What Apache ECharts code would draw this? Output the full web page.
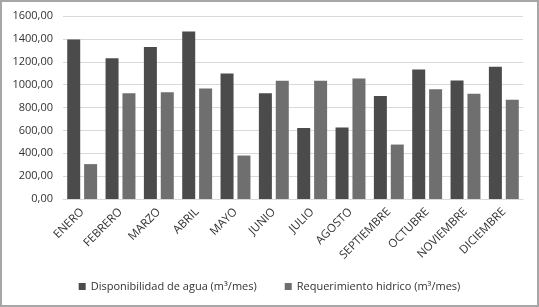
<!DOCTYPE html>
<html>
<head>
<meta charset="utf-8">
<script src="https://cdn.jsdelivr.net/npm/echarts@6/dist/echarts.min.js"></script>
<style>
  html, body { margin: 0; padding: 0; background: #fff; }
  #chartContainer { width: 539px; height: 307px; }
</style>
</head>
<body>
<div id="chartContainer"></div>
<script>
// meses
var meses = ['ENERO', 'FEBRERO', 'MARZO', 'ABRIL', 'MAYO', 'JUNIO', 'JULIO', 'AGOSTO', 'SEPTIEMBRE', 'OCTUBRE', 'NOVIEMBRE', 'DICIEMBRE'];
// m3/mes
var disponibilidad = [1395, 1230, 1328, 1464, 1098, 925, 620, 625, 900, 1133, 1037, 1156];
var requerimiento = [305, 925, 933, 967, 380, 1034, 1034, 1054, 476, 959, 920, 867];
var nombres = ['Disponibilidad de agua (m³/mes)', 'Requerimiento hidrico (m³/mes)'];

var fuente = '"Open Sans", "Liberation Sans", sans-serif';

var myChar, options = {
    animation: false,
    color: ['#4b4b4b', '#6f6f6f'],
    textStyle: { fontFamily: fuente },
    graphic: [{
        type: 'rect',
        shape: { x: 1, y: 1, width: 537, height: 305 },
        style: { fill: 'none', stroke: '#a6a6a6', lineWidth: 2 },
        silent: true
    }],
    legend: {
        bottom: 10,
        left: 'center',
        itemWidth: 7,
        itemHeight: 7,
        itemGap: 28,
        icon: 'rect',
        textStyle: { color: '#333', fontSize: 11, fontFamily: fuente },
        data: nombres
    },
    grid: {
        left: 63,
        right: 16,
        top: 16,
        bottom: 108
    },
    xAxis: {
        type: 'category',
        data: meses,
        axisTick: { show: false },
        axisLine: { lineStyle: { color: '#d9d9d9' } },
        axisLabel: {
            interval: 0,
            rotate: 45,
            color: '#333',
            fontSize: 11.5,
            margin: 11
        }
    },
    yAxis: {
        type: 'value',
        min: 0,
        max: 1600,
        interval: 200,
        axisLine: { show: false },
        axisTick: { show: false },
        splitLine: { lineStyle: { color: '#d9d9d9' } },
        axisLabel: {
            color: '#333',
            fontSize: 11,
            margin: 10,
            formatter: function (v) { return v.toFixed(2).replace('.', ','); }
        }
    },
    series: [
        {
            name: nombres[0],
            type: 'bar',
            barWidth: 13,
            barGap: '30%',
            data: disponibilidad
        },
        {
            name: nombres[1],
            type: 'bar',
            barWidth: 13,
            data: requerimiento
        }
    ]
};

myChar = echarts.init(document.getElementById('chartContainer'));
myChar.setOption(options);
</script>
</body>
</html>
